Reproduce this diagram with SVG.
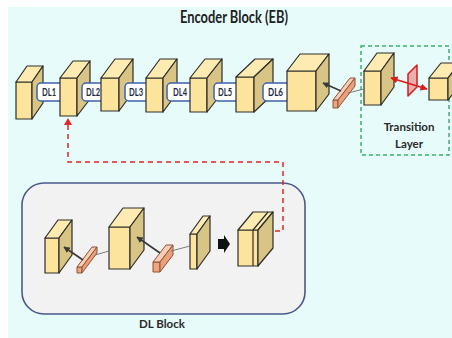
<svg xmlns="http://www.w3.org/2000/svg" width="452" height="338" viewBox="0 0 452 338">
<defs>
<style>
.f{fill:#fde49c;stroke:#2e2e2a;stroke-width:1.2;stroke-linejoin:round}
.t{fill:#fdebb2;stroke:#2e2e2a;stroke-width:1.2;stroke-linejoin:round}
.s{fill:#d8c585;stroke:#2e2e2a;stroke-width:1.2;stroke-linejoin:round}
.bf{fill:#f0a57e;stroke:#8a5538;stroke-width:1;stroke-linejoin:round}
.bt{fill:#f8cdb3;stroke:#8a5538;stroke-width:1;stroke-linejoin:round}
.bs{fill:#eba07c;stroke:#8a5538;stroke-width:1;stroke-linejoin:round}
.dl{fill:#ffffff;stroke:#3d62ad;stroke-width:1.5}
.dlt{font-family:Lato,"Liberation Sans",sans-serif;font-weight:bold;font-size:11px;fill:#1e2a45}
.lbl{font-family:Lato,"Liberation Sans",sans-serif;font-weight:bold;font-size:11.5px;fill:#2a2a2a;text-anchor:middle}
.thin{stroke:#6f6f6f;stroke-width:0.9;fill:none}
.arr{stroke:#3a3a3a;stroke-width:1.6;fill:none;marker-end:url(#ah)}
</style>
<marker id="ah" viewBox="0 0 10 10" refX="9" refY="5" markerWidth="4" markerHeight="4" orient="auto" markerUnits="strokeWidth">
<path d="M0,0 L10,5 L0,10 z" fill="#3a3a3a"/>
</marker>
<marker id="rh" viewBox="0 0 10 10" refX="9" refY="5" markerWidth="4" markerHeight="4" orient="auto-start-reverse" markerUnits="strokeWidth">
<path d="M0,0 L10,5 L0,10 z" fill="#d91c1c"/>
</marker>
</defs>
<rect x="0" y="0" width="452" height="338" fill="#ffffff"/>
<rect x="8" y="7" width="444" height="331" fill="#e7fbfb"/>
<text x="234" y="23" font-family="Lato,'Liberation Sans',sans-serif" font-weight="bold" font-size="16.5" fill="#222" text-anchor="middle" textLength="108" lengthAdjust="spacingAndGlyphs">Encoder Block (EB)</text>

<g id="transition-box">
<rect x="361" y="46" width="88" height="109" fill="none" stroke="#3bb36a" stroke-width="1.5" stroke-dasharray="4,3"/>
<text class="lbl" x="409" y="131">Transition</text>
<text class="lbl" x="409" y="148">Layer</text>
</g>

<g id="dl-block">
<rect x="22" y="183" width="283" height="131" rx="22" fill="#f2f2f2" stroke="#4a5a8c" stroke-width="1.6"/>
<text class="lbl" x="162" y="328">DL Block</text>
</g>

<g id="cube1"><rect class="f" x="16" y="82" width="16" height="37"/><polygon class="t" points="16,82 27,66 43,66 32,82"/><polygon class="s" points="32,82 43,66 43,103 32,119"/></g>
<g id="dl1"><rect class="dl" x="37" y="83" width="28" height="18" rx="4"/><text class="dlt" x="42" y="96" textLength="14" lengthAdjust="spacingAndGlyphs">DL1</text></g>
<g id="cube2"><rect class="f" x="60" y="78" width="17" height="38"/><polygon class="t" points="60,78 73,61 90,61 77,78"/><polygon class="s" points="77,78 90,61 90,99 77,116"/></g>
<g id="dl2"><rect class="dl" x="82" y="83" width="24" height="18" rx="4"/><text class="dlt" x="86" y="96" textLength="14" lengthAdjust="spacingAndGlyphs">DL2</text></g>
<g id="cube3"><rect class="f" x="101" y="78" width="18" height="33"/><polygon class="t" points="101,78 115,59 133,59 119,78"/><polygon class="s" points="119,78 133,59 133,92 119,111"/></g>
<g id="dl3"><rect class="dl" x="125" y="83" width="26" height="18" rx="4"/><text class="dlt" x="129" y="96" textLength="14" lengthAdjust="spacingAndGlyphs">DL3</text></g>
<g id="cube4"><rect class="f" x="146" y="78" width="17" height="34"/><polygon class="t" points="146,78 160,59 177,59 163,78"/><polygon class="s" points="163,78 177,59 177,93 163,112"/></g>
<g id="dl4"><rect class="dl" x="167" y="83" width="28" height="18" rx="4"/><text class="dlt" x="173" y="96" textLength="14" lengthAdjust="spacingAndGlyphs">DL4</text></g>
<g id="cube5"><rect class="f" x="190" y="78" width="17" height="34"/><polygon class="t" points="190,78 205,59 222,59 207,78"/><polygon class="s" points="207,78 222,59 222,93 207,112"/></g>
<g id="dl5"><rect class="dl" x="214" y="83" width="27" height="18" rx="4"/><text class="dlt" x="218" y="96" textLength="14" lengthAdjust="spacingAndGlyphs">DL5</text></g>
<g id="cube6"><rect class="f" x="236" y="77" width="18" height="35"/><polygon class="t" points="236,77 255,59 273,59 254,77"/><polygon class="s" points="254,77 273,59 273,94 254,112"/></g>
<g id="dl6"><rect class="dl" x="263" y="83" width="29" height="18" rx="4"/><text class="dlt" x="268" y="96" textLength="15" lengthAdjust="spacingAndGlyphs">DL6</text></g>
<g id="cube7"><rect class="f" x="287" y="71" width="29" height="40"/><polygon class="t" points="287,71 300,54 329,54 316,71"/><polygon class="s" points="316,71 329,54 329,94 316,111"/></g>
<g id="bar-top"><rect class="bf" x="333" y="100" width="5" height="8"/><polygon class="bt" points="333,100 350,78 355,78 338,100"/><polygon class="bs" points="338,100 355,78 355,86 338,108"/></g>

<g id="t-cube1"><rect class="f" x="364" y="71" width="17" height="34"/><polygon class="t" points="364,71 377,53 394,53 381,71"/><polygon class="s" points="381,71 394,53 394,87 381,105"/></g>
<g id="t-plane"><polygon points="408,74 417,65 417,87 408,96" fill="#e85050" fill-opacity="0.45" stroke="#d91c1c" stroke-width="1.5" stroke-linejoin="round"/></g>
<g id="t-cube2"><rect class="f" x="429" y="78" width="19" height="22"/><polygon class="t" points="429,78 441,63 460,63 448,78"/><polygon class="s" points="448,78 460,63 460,85 448,100"/></g>

<g id="dl-cubeA"><rect class="f" x="45" y="238" width="14" height="35"/><polygon class="t" points="45,238 58,220 72,220 59,238"/><polygon class="s" points="59,238 72,220 72,255 59,273"/></g>
<g id="dl-bar1"><rect class="bf" x="77" y="267" width="5" height="6"/><polygon class="bt" points="77,267 92,247 97,247 82,267"/><polygon class="bs" points="82,267 97,247 97,253 82,273"/></g>
<g id="dl-cubeB"><rect class="f" x="109" y="227" width="21" height="42"/><polygon class="t" points="109,227 123,208 144,208 130,227"/><polygon class="s" points="130,227 144,208 144,250 130,269"/></g>
<g id="dl-bar2"><rect class="bf" x="153" y="262" width="7" height="10"/><polygon class="bt" points="153,262 166,245 173,245 160,262"/><polygon class="bs" points="160,262 173,245 173,255 160,272"/></g>
<g id="dl-slab"><rect class="f" x="190" y="234" width="7" height="35"/><polygon class="t" points="190,234 203,216 210,216 197,234"/><polygon class="s" points="197,234 210,216 210,251 197,269"/></g>
<g id="dl-fatarrow"><polygon points="218,239 224,239 224,235 230,244 224,253 224,249 218,249" fill="#111"/></g>
<g id="dl-concat"><rect class="f" x="238" y="230" width="20" height="36"/><polygon class="t" points="238,230 253,212 273,212 258,230"/><polygon class="s" points="258,230 273,212 273,248 258,266"/><line x1="253" y1="230" x2="253" y2="266" stroke="#2e2e2a" stroke-width="1.2"/><line x1="253" y1="230" x2="268" y2="212" stroke="#2e2e2a" stroke-width="1.2"/></g>

<g id="connectors">
<path d="M68,125 V162 H283 V231 H273" fill="none" stroke="#e32626" stroke-width="1.5" stroke-dasharray="5,4"/>
<path d="M68,118 L72,125 L64,125 z" fill="#e32626"/>
<line class="thin" x1="348" y1="93" x2="364" y2="89"/>
<line class="arr" x1="341" y1="91" x2="323" y2="83"/>
<line x1="391" y1="78" x2="427" y2="89" stroke="#d91c1c" stroke-width="1.8" marker-start="url(#rh)" marker-end="url(#rh)"/>
<line class="thin" x1="95" y1="255" x2="109" y2="251"/>
<line class="thin" x1="171" y1="251" x2="190" y2="246"/>
<line class="arr" x1="83" y1="260" x2="64" y2="247"/>
<line class="arr" x1="160" y1="253" x2="137" y2="237"/>
</g>
</svg>
